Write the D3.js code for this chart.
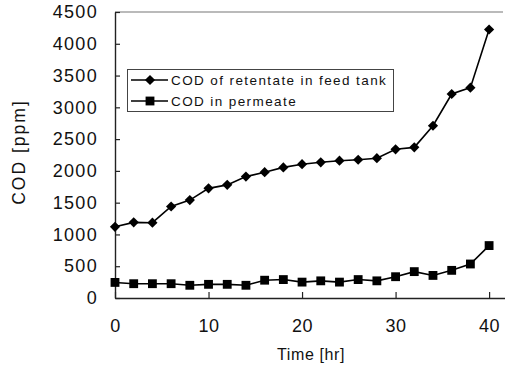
<!DOCTYPE html>
<html>
<head>
<meta charset="utf-8">
<script src="https://cdn.jsdelivr.net/npm/d3@7"></script>
<style>
  html, body { margin:0; padding:0; background:#fff; }
  svg { display:block; font-family: "Liberation Sans", Arial, sans-serif; }
  .tick text { fill:#111; }
</style>
</head>
<body>
<svg id="chart" width="505" height="366"></svg>
<script>
/* Datos: tiempo en horas, COD en ppm */
const time = [0, 2, 4, 6, 8, 10, 12, 14, 16, 18, 20, 22, 24, 26, 28, 30, 32, 34, 36, 38, 40];
const codRetentate = [1120, 1190, 1185, 1440, 1540, 1725, 1780, 1910, 1980, 2055, 2105, 2135, 2160, 2175, 2200, 2340, 2370, 2710, 3210, 3310, 4225];
const codPermeate = [245, 225, 225, 225, 200, 215, 215, 200, 280, 290, 250, 270, 250, 290, 270, 335, 415, 355, 435, 535, 825];
const xTicks = [0, 10, 20, 30, 40];
const yTicks = [0, 500, 1000, 1500, 2000, 2500, 3000, 3500, 4000, 4500];
const seriesNames = ["COD of retentate in feed tank", "COD in permeate"];

const svg = d3.select("#chart");
const x = d3.scaleLinear().domain([0, 41.7]).range([115, 505]);
const y = d3.scaleLinear().domain([0, 4500]).range([298, 12]);

/* borde superior (gris, como en el escaneo) */
svg.append("line")
  .attr("x1", x(0)).attr("x2", 503)
  .attr("y1", y(4500)).attr("y2", y(4500))
  .attr("stroke", "#777").attr("stroke-width", 1.2);

/* ejes con marcas hacia adentro */
const gx = svg.append("g")
  .attr("transform", "translate(0," + y(0) + ")")
  .call(d3.axisBottom(x).tickValues(xTicks).tickFormat(d3.format("d"))
    .tickSizeInner(-6).tickSizeOuter(0).tickPadding(21));
gx.select(".domain").attr("stroke", "#222").attr("stroke-width", 1.3);
gx.selectAll(".tick line").attr("stroke", "#222").attr("stroke-width", 1.2);
gx.selectAll(".tick text").attr("font-size", 18).style("letter-spacing", "0.6px");

const gy = svg.append("g")
  .attr("transform", "translate(" + x(0) + ",0)")
  .call(d3.axisLeft(y).tickValues(yTicks).tickFormat(d3.format("d"))
    .tickSizeInner(-5).tickSizeOuter(0).tickPadding(17));
gy.select(".domain").attr("stroke", "#222").attr("stroke-width", 1.4);
gy.selectAll(".tick line").attr("stroke", "#222").attr("stroke-width", 1.2);
gy.selectAll(".tick text").attr("font-size", 18).style("letter-spacing", "1.3px");

/* títulos de ejes */
svg.append("text")
  .attr("x", 311).attr("y", 360)
  .attr("text-anchor", "middle")
  .attr("font-size", 16).style("letter-spacing", "0.6px")
  .attr("fill", "#111")
  .text("Time [hr]");

svg.append("text")
  .attr("transform", "translate(25,152) rotate(-90)")
  .attr("text-anchor", "middle")
  .attr("font-size", 17.5).style("letter-spacing", "2px")
  .attr("fill", "#111")
  .text("COD [ppm]");

/* series */
const line = d3.line().x((d, i) => x(time[i])).y(d => y(d));
const square = d3.symbol().type(d3.symbolSquare).size(78);
const diamond = d3.symbol().type(d3.symbolSquare).size(52);   // se rota 45°

function drawSeries(values, sym, rot){
  svg.append("path")
    .datum(values)
    .attr("d", line)
    .attr("fill", "none")
    .attr("stroke", "#000")
    .attr("stroke-width", 1.6);
  svg.append("g").selectAll("path")
    .data(values)
    .enter().append("path")
    .attr("transform", (d, i) => "translate(" + x(time[i]) + "," + y(d) + ") rotate(" + rot + ")")
    .attr("d", sym)
    .attr("fill", "#000");
}
drawSeries(codRetentate, diamond, 45);
drawSeries(codPermeate, square, 0);

/* leyenda */
const leg = svg.append("g");
leg.append("rect")
  .attr("x", 127.5).attr("y", 69.5).attr("width", 266).attr("height", 42)
  .attr("fill", "#fff").attr("stroke", "#444").attr("stroke-width", 1);
const syms = [[diamond, 45], [square, 0]];
seriesNames.forEach((name, i) => {
  const cy = 80 + i * 21;
  leg.append("line")
    .attr("x1", 131).attr("x2", 168).attr("y1", cy).attr("y2", cy)
    .attr("stroke", "#000").attr("stroke-width", 1.6);
  leg.append("path")
    .attr("transform", "translate(150," + cy + ") rotate(" + syms[i][1] + ")")
    .attr("d", syms[i][0]).attr("fill", "#000");
  leg.append("text")
    .attr("x", 171).attr("y", cy + 5)
    .attr("font-size", 13.5).style("letter-spacing", "1.4px")
    .attr("fill", "#111")
    .text(name);
});
</script>
</body>
</html>
